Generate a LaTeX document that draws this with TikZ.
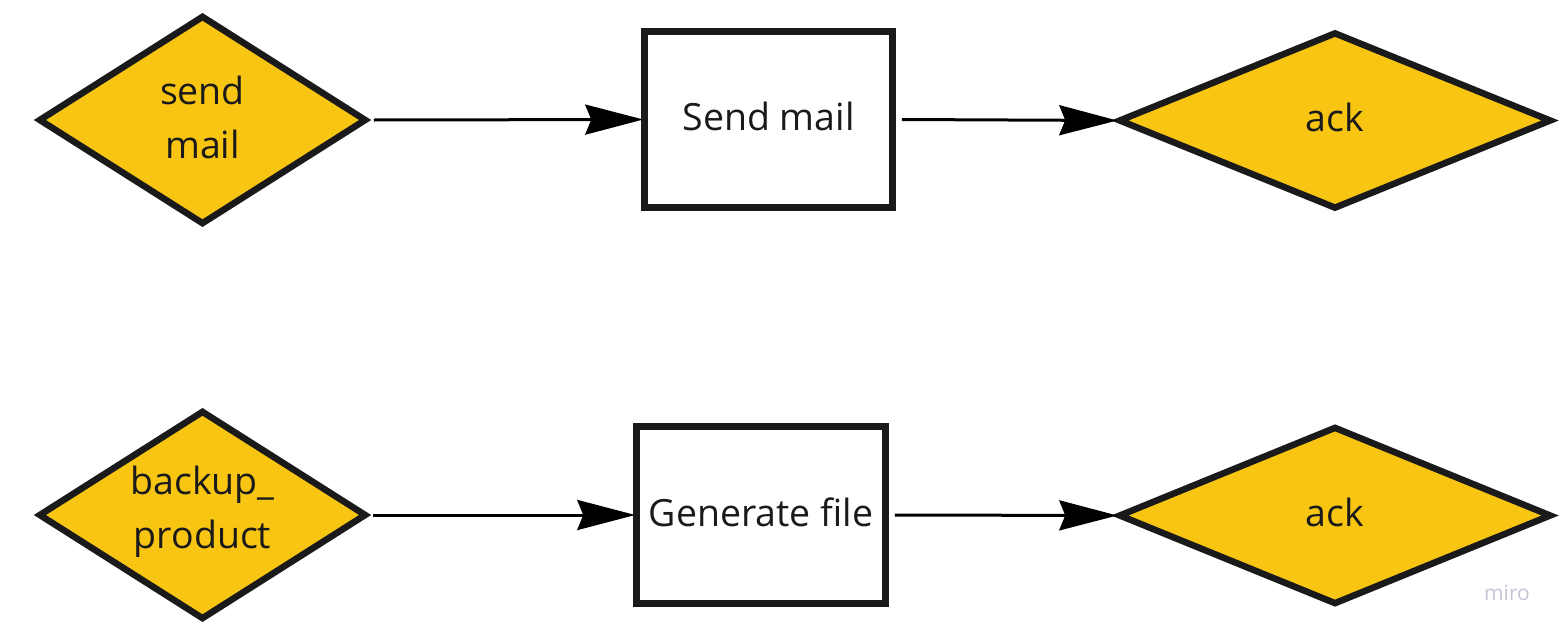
\documentclass[tikz,border=0pt]{standalone}
\usepackage{fontspec}
\setmainfont{Open Sans}
\usetikzlibrary{shapes.geometric,arrows.meta}
\definecolor{dyellow}{HTML}{F8C513}
\definecolor{dborder}{HTML}{1A1A1A}
\definecolor{mirogray}{HTML}{C4C6D6}
\tikzset{
  txt/.style={align=center, text=dborder, font=\fontsize{37.5}{54}\selectfont, inner sep=0pt, yshift=3pt},
  dec/.style={diamond, draw=dborder, fill=dyellow, line width=6.5pt, inner sep=0pt},
  taskbox/.style={rectangle, draw=dborder, fill=white, line width=6.5pt, inner sep=0pt},
  flow/.style={line width=3pt, draw=black, -{Stealth[length=58pt, width=30pt, inset=6pt]}, shorten >=-2pt}
}
\begin{document}
\begin{tikzpicture}[x=1pt,y=-1pt]
\useasboundingbox (0,0) rectangle (1568,637);
% row 1
\node[dec, minimum width=328pt, minimum height=209pt] (d1) at (202.5,120) {};
\node[txt] (t1) at (d1.center) {send\\mail};
\node[taskbox, minimum width=248pt, minimum height=176pt] (r1) at (768.5,119.5) {};
\node[txt] (t2) at (r1.center) {Send mail};
\node[dec, minimum width=433pt, minimum height=177pt] (a1) at (1335,120.5) {};
\node[txt] (t3) at (a1.center) {ack};
% row 2
\node[dec, minimum width=328pt, minimum height=209pt] (d2) at (202.5,515) {};
\node[txt] (t4) at (d2.center) {backup\_\\product};
\node[taskbox, minimum width=249pt, minimum height=177pt] (r2) at (761,515) {};
\node[txt] (t5) at (r2.center) {Generate file};
\node[dec, minimum width=433pt, minimum height=178pt] (a2) at (1335,515.5) {};
\node[txt] (t6) at (a2.center) {ack};
% connectors
\draw[flow] ([xshift=4pt]d1.east) -- (r1.west);
\draw[flow] ([xshift=6pt]r1.east) -- (a1.west);
\draw[flow] ([xshift=3pt]d2.east) -- (r2.west);
\draw[flow] ([xshift=6pt]r2.east) -- (a2.west);
% watermark
\node[text=mirogray, font=\fontsize{21}{24}\selectfont] (wm) at (1507,593) {miro};
\end{tikzpicture}
\end{document}
